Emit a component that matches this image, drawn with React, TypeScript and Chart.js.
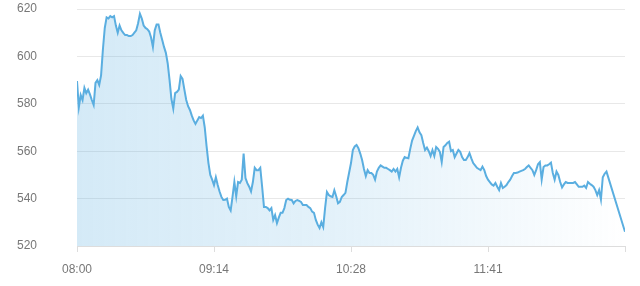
import { useEffect, useRef } from 'react';
import { Chart, registerables } from 'chart.js';

Chart.register(...registerables);

// Price per minute, starting 08:00 (null = no trade recorded that minute)
const prices: (number | null)[] = [
  589.6, 578.6, 583.7, 581.6, 586.7, 584.5, 586, 584, 581.6, 579.5,
  588.8, 590, 588, 592, 603, 612, 616.5, 616, 617, 616.5,
  617, 613, 610, 613, 611, 609.9, 609, 609, 608.6, 608.6,
  609, 610, 611, 614, 618, 616, 613, 612, 611.5, 610.5,
  608, 604, 611, 613.5, 613.5, 610, 607, 604, 601.5, 597,
  590, 582, 578, 584.5, 585, 586, 591.7, 590.5, 586, 581.6,
  579, 577.4, 575, 573, 571.5, 573, 574.4, 574, 575, 570,
  562, 555, 550, 548, 545.7, 549, 545.7, 543, 540.7, 539.4,
  539.5, 540, 536.5, 535, 540.7, 547, 541, 547, 546.6, 548,
  559, 548.7, 546.5, 545, 543, 547, 553, 552, 552, 553,
  545, 536.5, 536.5, 536, 535, 536, 531, 533, 529.7, 532,
  534, 534, 536, 539.4, 540, 539.5, 539.4, 538, 539, 539.4,
  539, 538.6, 537.3, 537.3, 537.3, 536.5, 536, 534.5, 534, 531,
  529, 527.6, 530, 528, 536, 542.8, 541.5, 541, 540.7, 543.5,
  541, 538, 538.6, 540.7, 541.5, 542.4, 547, 551, 555, 560.5,
  562, 562.6, 561.3, 559, 556.3, 552.5, 549.5, 552, 550.8, 550.8,
  550, 548, 551.4, 553, 554, 553.5, 553, 553, 552.5, 552,
  551.4, 552.5, 551.4, 552.5, 549, 553, 556, 557.5, 557.2, 557,
  561, 564.5, 566.5, 568.5, 570, 568, 566.8, 563.5, 560.5, 561.5,
  560, 558, 560.5, 558, 561.8, 561, 559.7, 555.4, 561.8, 562.5,
  563.5, 564, 560, 560.5, 557.5, 559, 560.5, 559.7, 557.5, 556.3,
  556.3, 557.5, 559.2, 557, 555, 554, 553, 552.5, 552, 553.5,
  552, 549.5, 548, 547, 546, 545.5, 546.6, 545, 543.6, 546.6,
  544.5, 545, 545.7, 547, 548, 549.5, 550.8, 550.8, 551, 551.4,
  551.7, 552, 552.5, 553.3, 554, 553, 552, 550, 552, 554.5,
  555.4, 548, 553.3, 554, 554, 554.5, 555.2, 550.8, 548, 551.4,
  550, 547, 544.7, 546, 547, 546.6, 546.6, 546.6, 546.6, 547,
  546, 545, 545, 545, 545.5, 544.5, 547, 546.3, 545.7, 545,
  543.6, 541.5, 543.6, 539.6, 549, 550.5, 551.4, null, null, null,
  null, null, null, null, null, null, 526,
];

// Minute offsets from 08:00 where x ticks sit, and their labels
const tickMinutes: number[] = [0, 74, 148, 222, 296];
const tickLabels: string[] = ['08:00', '09:14', '10:28', '11:41', ''];

const yMin = 520;
const yMax = 620;
const yStep = 20;

export default function App() {
  const canvasRef = useRef<HTMLCanvasElement | null>(null);

  useEffect(() => {
    const canvas = canvasRef.current;
    if (!canvas) return;
    const font = { family: '"Liberation Sans", Arial, sans-serif', size: 12 };
    const chart = new Chart(canvas, {
      type: 'line',
      data: {
        datasets: [
          {
            data: prices.map((v, i) => ({ x: i, y: v })),
            spanGaps: true,
            borderColor: '#5aaee0',
            borderWidth: 2,
            pointRadius: 0,
            tension: 0,
            fill: 'start',
            backgroundColor: (ctx: any) => {
              const c = ctx.chart;
              const area = c.chartArea;
              if (!area) return 'rgba(90,174,224,0.25)';
              const g = c.ctx.createLinearGradient(area.left, 0, area.right, 0);
              g.addColorStop(0, 'rgba(90,174,224,0.26)');
              g.addColorStop(0.5, 'rgba(90,174,224,0.16)');
              g.addColorStop(1, 'rgba(90,174,224,0)');
              return g;
            },
          },
        ],
      },
      options: {
        animation: false,
        responsive: false,
        layout: { padding: { left: 17, right: 15, top: 9, bottom: 0 } },
        plugins: { legend: { display: false }, tooltip: { enabled: false } },
        scales: {
          x: {
            type: 'linear',
            min: 0,
            max: prices.length - 1,
            afterBuildTicks: (axis: any) => {
              axis.ticks = tickMinutes.map((v) => ({ value: v }));
            },
            afterFit: (axis: any) => {
              axis.height = 40;
              axis.paddingLeft = 0;
              axis.paddingRight = 0;
            },
            ticks: {
              autoSkip: false,
              maxRotation: 0,
              padding: 10,
              color: '#777',
              font,
              callback: (_v: any, i: number) => tickLabels[i],
            },
            grid: { drawOnChartArea: false, tickLength: 6, color: '#ddd' },
            border: { color: '#ddd' },
          },
          y: {
            min: yMin,
            max: yMax,
            afterFit: (axis: any) => {
              axis.width = 60;
              axis.paddingTop = 0;
              axis.paddingBottom = 0;
            },
            ticks: { stepSize: yStep, padding: 40, color: '#777', font },
            grid: { drawTicks: false, color: '#e8e8e8' },
            border: { display: false },
          },
        },
      },
    });
    return () => chart.destroy();
  }, []);

  return (
    <div style={{ position: 'fixed', left: 0, top: 0, width: 640, height: 286, background: '#fff' }}>
      <canvas ref={canvasRef} width={640} height={286} style={{ display: 'block' }} />
    </div>
  );
}
